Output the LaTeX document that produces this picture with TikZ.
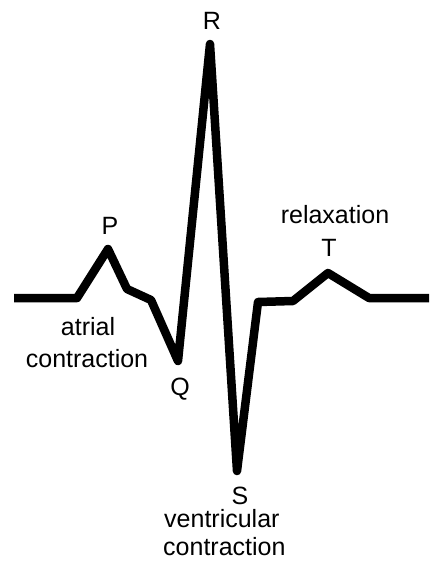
\documentclass[tikz,border=0pt]{standalone}
\usepackage{fontspec}
\setmainfont{Liberation Sans}
\begin{document}
\begin{tikzpicture}[x=1pt,y=-1pt,
  ecg/.style={line width=8.5pt,line join=round,line cap=butt},
  lbl/.style={font=\fontsize{25}{28}\selectfont,inner sep=0pt,anchor=base}]
\useasboundingbox (0,0) rectangle (429,563);
\coordinate (a) at (14,298);
\coordinate (b) at (77,298);
\coordinate (p) at (108,249);
\coordinate (c) at (127,289);
\coordinate (d) at (151,300);
\coordinate (q) at (178,361);
\coordinate (r) at (210,44);
\coordinate (s) at (237,471);
\coordinate (e) at (258,302);
\coordinate (f) at (293,301);
\coordinate (t) at (328,273);
\coordinate (g) at (369,298);
\coordinate (h) at (429,298);
\draw[ecg] (a) -- (b) -- (p) -- (c) -- (d) -- (q) -- (r) -- (s) -- (e) -- (f) -- (t) -- (g) -- (h);
\node[lbl] (lp) at (110,234) {P};
\node[lbl] (lr) at (212,29) {R};
\node[lbl] (lq) at (180,395) {Q};
\node[lbl] (lt) at (329,256) {T};
\node[lbl] (lrel) at (335,223) {relaxation};
\node[lbl] (ls) at (240,504) {S};
\node[lbl] (latr1) at (88,335) {atrial};
\node[lbl] (latr2) at (87,367) {contraction};
\node[lbl,anchor=base west] (lven1) at (164,527) {ventricular};
\node[lbl,anchor=base west] (lven2) at (163,555) {contraction};
\end{tikzpicture}
\end{document}
